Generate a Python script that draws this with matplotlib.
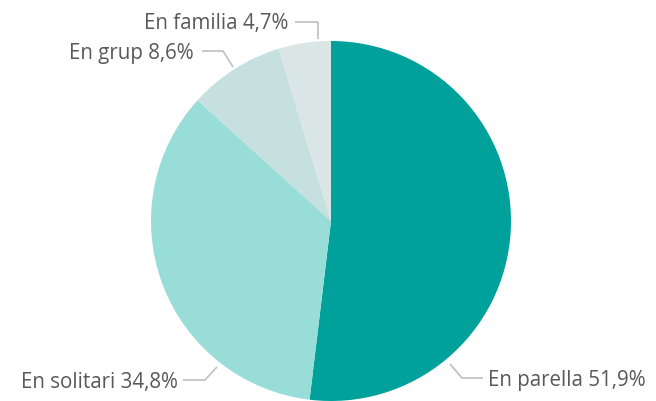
import matplotlib
matplotlib.use("Agg")
import matplotlib.pyplot as plt

categories = ["En parella", "En solitari", "En grup", "En familia"]
values = [51.9, 34.8, 8.6, 4.7]
colors = ["#00A19A", "#99DDD8", "#C6E0E0", "#DAE5E5"]
labels = [f"{c} {str(v).replace('.', ',')}%" for c, v in zip(categories, values)]

W, H = 656, 402
fig = plt.figure(figsize=(W / 100, H / 100), dpi=100)
ax = fig.add_axes([0, 0, 1, 1])

cx, cy, r = 331, H - 222, 180
ax.pie(values, colors=colors, startangle=90, counterclock=False,
       center=(cx, cy), radius=r, frame=True,
       wedgeprops=dict(linewidth=0))
ax.set_xlim(0, W)
ax.set_ylim(0, H)
ax.set_aspect("equal")
ax.axis("off")

def yy(v):
    return H - v

line_color = "#BFBFBF"
text_color = "#595959"
font = dict(family=["Open Sans", "DejaVu Sans"], size=14.8, color=text_color)

# (line points in top-origin pixels, text anchor, ha)
layout = [
    ([(450, 365), (462, 379), (483, 379)], (488, 381), "left"),
    ([(217, 368), (205, 381), (183, 381)], (178, 383), "right"),
    ([(233, 68), (223, 52), (202, 52)], (194, 54), "right"),
    ([(318, 40), (318, 23), (295, 23)], (288, 24), "right"),
]
for lab, (pts, (tx, ty), ha) in zip(labels, layout):
    xs = [p[0] for p in pts]
    ys = [yy(p[1]) for p in pts]
    ax.plot(xs, ys, color=line_color, lw=1.2, solid_capstyle="butt")
    ax.text(tx, yy(ty), lab, ha=ha, va="center", **font)

fig.savefig("out.png", dpi=100)
